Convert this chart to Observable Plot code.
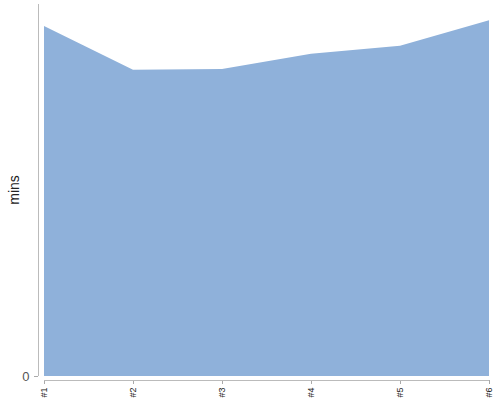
<!DOCTYPE html>
<html>
<head>
<meta charset="utf-8">
<script src="https://cdn.jsdelivr.net/npm/d3@7"></script>
<script src="https://cdn.jsdelivr.net/npm/@observablehq/plot@0.6"></script>
<style>
  html, body { margin: 0; padding: 0; background: #fff; }
  svg { font-family: "Liberation Sans", Arial, sans-serif; }
</style>
</head>
<body>
<div id="chart"></div>
<script>
const categories = ["#1", "#2", "#3", "#4", "#5", "#6"];
const mins = [94.1, 82.3, 82.5, 86.6, 88.8, 95.6];
const yTicks = [0];

const data = categories.map((c, i) => ({cat: c, value: mins[i]}));

const plot = Plot.plot({
  width: 500,
  height: 400,
  marginTop: 4,
  marginLeft: 38,
  marginRight: 9,
  marginBottom: 20,
  style: {background: "#fff", fontFamily: "Liberation Sans, Arial, sans-serif"},
  x: {type: "point", domain: categories, padding: 0, insetLeft: 4},
  y: {domain: [0, 100], insetBottom: 4},
  marks: [
    Plot.areaY(data, {x: "cat", y: "value", fill: "#8fb1da", curve: "linear"}),
    Plot.axisY({ticks: yTicks, tickSize: 4, tickPadding: 5, fontSize: 13, color: "#555", stroke: "#aaa",
      label: null}),
    Plot.axisX({tickRotate: -90, tickSize: 4, tickPadding: 3, fontSize: 9, label: null, stroke: "#aaa", color: "#222"}),
  ]
});
document.getElementById("chart").appendChild(plot);

// axis domain lines (left and bottom) and y-axis title
const svg = d3.select(plot);
const xs = plot.scale("x"), ys = plot.scale("y");
const yTop = 4, yBottom = 400 - 20, xLeft = 38;
svg.append("line").attr("x1", xLeft + 0.5).attr("x2", xLeft + 0.5).attr("y1", yTop).attr("y2", ys.apply(0))
  .attr("stroke", "#bbb");
svg.append("line").attr("x1", xs.apply(categories[0])).attr("x2", xs.apply(categories[categories.length - 1]))
  .attr("y1", yBottom + 0.5).attr("y2", yBottom + 0.5).attr("stroke", "#bbb");
svg.append("text").text("mins")
  .attr("transform", `translate(19,${(yTop + ys.apply(0)) / 2}) rotate(-90)`)
  .attr("text-anchor", "middle").attr("fill", "#222").style("font-size", "14px");
</script>
</body>
</html>
